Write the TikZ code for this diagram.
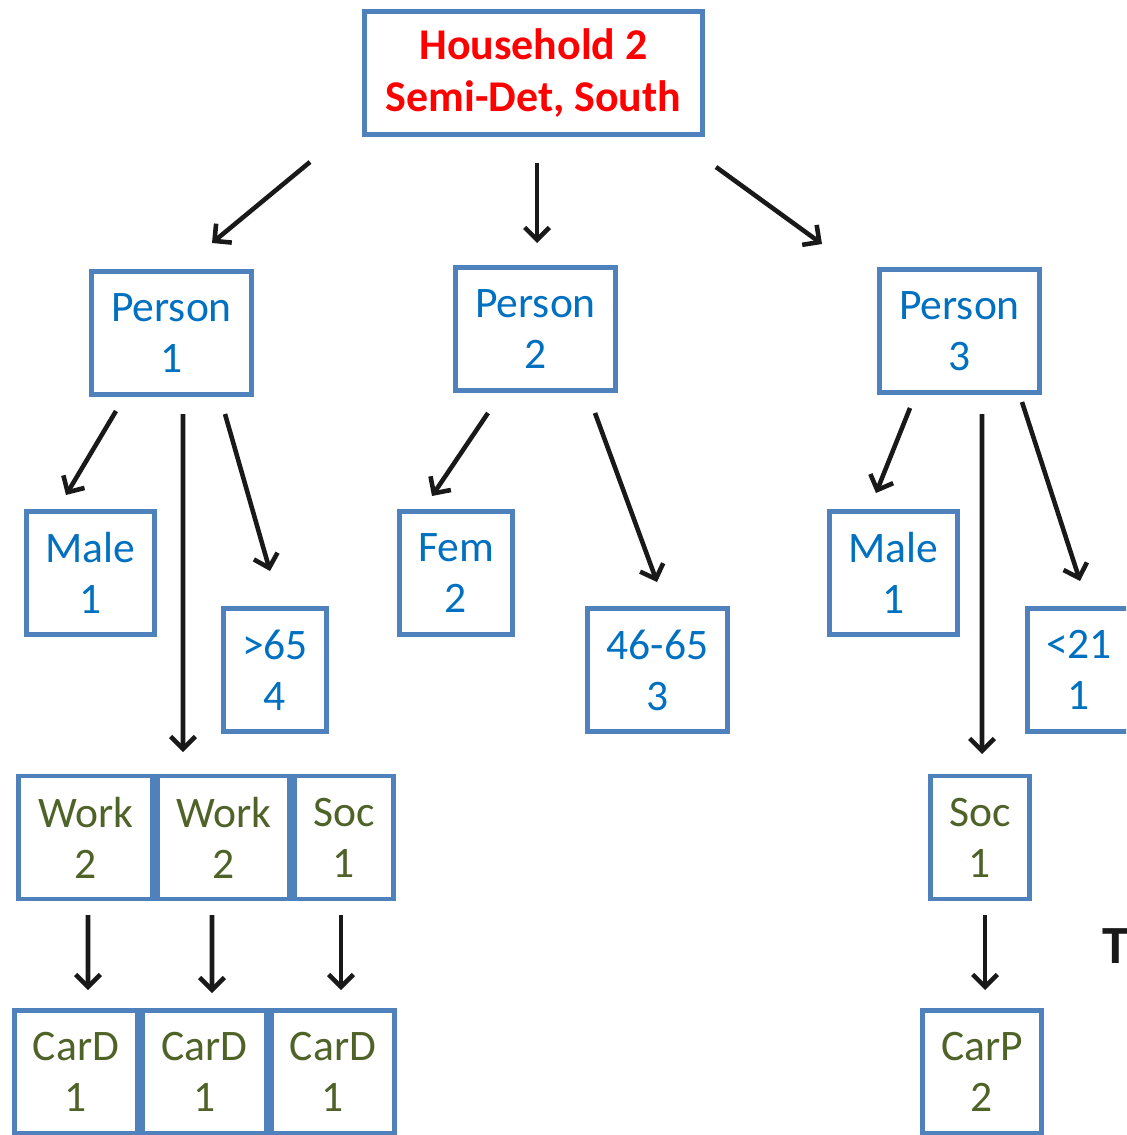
\documentclass[tikz,border=0pt]{standalone}
\usepackage{fontspec}
\setmainfont{Carlito}
\usetikzlibrary{calc,arrows.meta}
\definecolor{boxblue}{RGB}{79,129,189}
\definecolor{txtblue}{RGB}{0,112,192}
\definecolor{txtgreen}{RGB}{79,98,40}
\tikzset{
  card/.style={draw=boxblue, line width=2.4pt, fill=white, minimum height=2.46cm, align=center, inner sep=0pt,
    font=\fontsize{24.8pt}{29pt}\selectfont},
  pbox/.style={card, text=txtblue},
  tbox/.style={card, text=txtgreen},
  arr/.style={-{Straight Barb[length=7pt,width=14pt]}, line width=2.6pt, color=black!90}
}

\begin{document}
\begin{tikzpicture}[x=0.02cm, y=-0.02cm]
  %%%%% START %%%%%
  \useasboundingbox (0,0) rectangle (1126,1135);
  \clip (0,0) rectangle (1126,1135);

  % household
  \node[card, text=red, minimum width=6.76cm, font=\fontsize{25pt}{30pt}\selectfont\bfseries] (hh) at (533.5,73) {Household 2\\Semi-Det, South};

  % persons
  \node[pbox, minimum width=3.20cm] (p1) at (171.5,333) {Person\\1};
  \node[pbox, minimum width=3.20cm] (p2) at (535.5,329) {Person\\2};
  \node[pbox, minimum width=3.20cm] (p3) at (959.5,331) {Person\\3};

  % attributes
  \node[pbox, minimum width=2.56cm] (m1) at (90.5,573) {Male\\1};
  \node[pbox, minimum width=2.06cm] (o65) at (275,670) {>65\\4};
  \node[pbox, minimum width=2.26cm] (fem) at (456,573) {Fem\\2};
  \node[pbox, minimum width=2.80cm] (a46) at (657.5,670) {46-65\\3};
  \node[pbox, minimum width=2.56cm] (m3) at (893.5,573) {Male\\1};
  \node[pbox, minimum width=2.06cm] (u21) at (1079,670) {<21\\1};

  % trips
  \node[tbox, minimum width=2.68cm] (w1) at (85.5,837.5) {Work\\2};
  \node[tbox, minimum width=2.64cm] (w2) at (223.5,837.5) {Work\\2};
  \node[tbox, minimum width=1.98cm] (s1) at (344,837.5) {Soc\\1};
  \node[tbox, minimum width=1.98cm] (s3) at (980,837.5) {Soc\\1};

  % modes
  \node[tbox, minimum width=2.46cm] (c1) at (76,1072) {CarD\\1};
  \node[tbox, minimum width=2.48cm] (c2) at (204.5,1072) {CarD\\1};
  \node[tbox, minimum width=2.46cm] (c3) at (333,1072) {CarD\\1};
  \node[tbox, minimum width=2.38cm] (cp) at (982,1072) {CarP\\2};

  \node[anchor=base west, inner sep=0pt, text=black!90, font=\fontsize{30.6pt}{36pt}\selectfont\bfseries] (tt) at (1102,963) {T};

  % arrows
  \draw[arr] ($(hh)+(-223.5,89)$) -- ($(p1)+(40.5,-90)$);
  \draw[arr] ($(hh)+(3.5,90)$) -- ($(p2)+(1.5,-86)$);
  \draw[arr] ($(hh)+(182.5,94)$) -- ($(p3)+(-137.5,-87)$);

  \draw[arr] ($(p1)+(-55.5,78)$) -- ($(m1)+(-24.5,-78)$);
  \draw[arr] ($(p1)+(11.5,81)$) -- ($(w2)+(-40.5,-85.5)$);
  \draw[arr] ($(p1)+(53.5,81)$) -- ($(o65)+(-5,-99)$);

  \draw[arr] ($(p2)+(-47.5,84)$) -- ($(fem)+(-24,-77)$);
  \draw[arr] ($(p2)+(59.5,84)$) -- ($(a46)+(-0.5,-88)$);

  \draw[arr] ($(p3)+(-49.5,77)$) -- ($(m3)+(-17.5,-80)$);
  \draw[arr] ($(p3)+(22.5,83)$) -- ($(s3)+(2,-83.5)$);
  \draw[arr] ($(p3)+(62.5,71)$) -- ($(u21)+(1,-89)$);

  \draw[arr] ($(w1)+(2.5,77.5)$) -- ($(c1)+(12,-82)$);
  \draw[arr] ($(w2)+(-11.5,77.5)$) -- ($(c2)+(7.5,-79)$);
  \draw[arr] ($(s1)+(-3,77.5)$) -- ($(c3)+(8,-82)$);
  \draw[arr] ($(s3)+(5,77.5)$) -- ($(cp)+(3,-82)$);
  %%%%% END %%%%%
\end{tikzpicture}
\end{document}
